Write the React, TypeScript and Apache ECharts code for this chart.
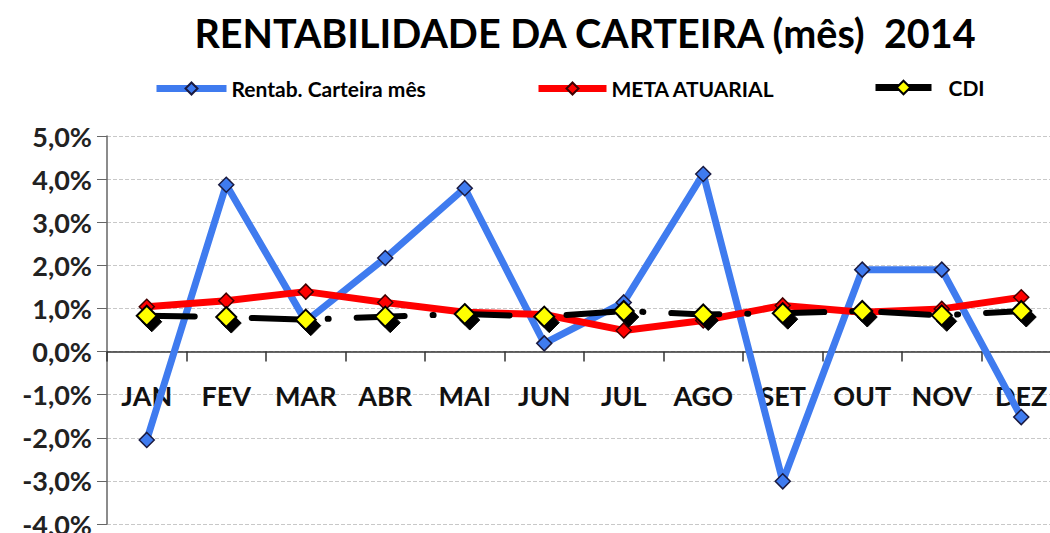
import React, { useEffect, useRef } from "react";
import * as echarts from "echarts";

const months = ["JAN", "FEV", "MAR", "ABR", "MAI", "JUN", "JUL", "AGO", "SET", "OUT", "NOV", "DEZ"];
const rentab = [-2.05, 3.87, 0.7, 2.17, 3.79, 0.19, 1.14, 4.12, -3.01, 1.9, 1.9, -1.52];
const meta = [1.04, 1.18, 1.39, 1.14, 0.91, 0.86, 0.49, 0.72, 1.07, 0.91, 0.99, 1.26];
const cdi = [0.83, 0.8, 0.74, 0.81, 0.87, 0.81, 0.94, 0.86, 0.89, 0.94, 0.84, 0.94];

const titleText = "RENTABILIDADE DA CARTEIRA (mês)  2014";
const nameRentab = "Rentab. Carteira mês";
const nameMeta = "META ATUARIAL";
const nameCdi = "CDI";

const FONT = "Lato, 'Open Sans', sans-serif";

const GRID_TOP = 136;
const GRID_H = 388;
const Y_MIN = -4;
const Y_MAX = 5;

export default function App() {
  const ref = useRef<HTMLDivElement>(null);
  useEffect(() => {
    document.body.style.margin = "0";
    const chart = echarts.init(ref.current!, null, { renderer: "svg" });
    const legendText = { fontFamily: FONT, fontWeight: "bold", fontSize: 21, color: "#000" };
    const zeroOffset = -(GRID_H * (0 - Y_MIN)) / (Y_MAX - Y_MIN);
    chart.setOption({
      animation: false,
      backgroundColor: "#fff",
      title: {
        text: titleText,
        left: 580,
        textAlign: "center",
        top: 7,
        textStyle: { fontFamily: FONT, fontWeight: "bold", fontSize: 39.5, color: "#000" },
      },
      legend: [
        {
          top: 73,
          left: 148,
          itemWidth: 70,
          itemHeight: 15,
          selectedMode: false,
          data: [nameRentab],
          textStyle: legendText,
          lineStyle: { width: 7 },
        },
        {
          top: 73,
          left: 530,
          itemWidth: 68,
          itemHeight: 15,
          selectedMode: false,
          data: [nameMeta],
          textStyle: legendText,
          lineStyle: { width: 7 },
        },
        {
          top: 72,
          left: 867,
          itemWidth: 56,
          itemHeight: 17,
          selectedMode: false,
          data: [nameCdi],
          textStyle: { ...legendText, padding: [0, 0, 0, 12] },
          lineStyle: { width: 7, type: "solid", color: "#000", opacity: 1 },
        },
      ],
      grid: { left: 107, top: GRID_TOP, width: 954, height: GRID_H, outerBoundsMode: "none", containLabel: false },
      xAxis: {
        type: "category",
        data: months,
        boundaryGap: true,
        offset: zeroOffset,
        axisLine: { onZero: false, lineStyle: { color: "#333", width: 1.5 } },
        axisTick: { show: true, length: 10, lineStyle: { color: "#333", width: 1.5 } },
        axisLabel: {
          margin: 30,
          fontFamily: FONT,
          fontWeight: "bold",
          fontSize: 27,
          color: "#111",
          interval: 0,
        },
        splitLine: { show: false },
      },
      yAxis: {
        type: "value",
        min: Y_MIN,
        max: Y_MAX,
        interval: 1,
        axisLine: { show: true, lineStyle: { color: "#666", width: 1.5 } },
        axisTick: { show: true, length: 10, lineStyle: { color: "#666" } },
        axisLabel: {
          margin: 15,
          fontFamily: FONT,
          fontWeight: "bold",
          fontSize: 27,
          color: "#222",
          formatter: (v: number) => v.toFixed(1).replace(".", ",") + "%",
        },
        splitLine: { show: true, lineStyle: { color: "#c8c8c8", type: "dashed", width: 1 } },
      },
      series: [
        {
          name: nameRentab,
          type: "line",
          data: rentab,
          z: 2,
          symbol: "diamond",
          symbolSize: 15,
          lineStyle: { color: "#3F7BEF", width: 7 },
          itemStyle: { color: "#3F7BEF", borderColor: "#1a1a40", borderWidth: 1.5 },
        },
        {
          name: nameMeta,
          type: "line",
          data: meta,
          z: 3,
          symbol: "diamond",
          symbolSize: 15,
          lineStyle: { color: "#FF0000", width: 7 },
          itemStyle: { color: "#FF0000", borderColor: "#400000", borderWidth: 1.5 },
        },
        {
          name: "cdiShadow",
          type: "line",
          data: cdi,
          z: 4,
          symbol: "diamond",
          symbolSize: 20,
          symbolOffset: [5, 6],
          lineStyle: { color: "#000", width: 6, type: [48, 28, 1, 28], cap: "round" },
          itemStyle: { color: "#000", borderColor: "#000", borderWidth: 1 },
        },
        {
          name: nameCdi,
          type: "line",
          data: cdi,
          z: 5,
          symbol: "diamond",
          symbolSize: 20,
          lineStyle: { color: "#000", width: 0, opacity: 0 },
          itemStyle: { color: "#FFFF00", borderColor: "#000", borderWidth: 2 },
        },
      ],
    });
    return () => chart.dispose();
  }, []);
  return (
    <div
      ref={ref}
      style={{ position: "absolute", left: 0, top: 0, width: 1050, height: 533 }}
    />
  );
}
